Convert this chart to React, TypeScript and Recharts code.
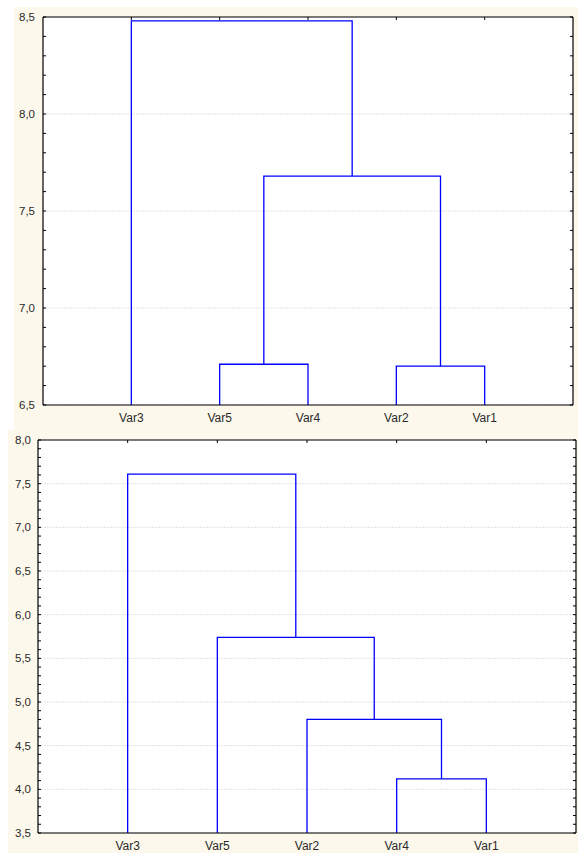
import React from 'react';
import { ComposedChart, Line, XAxis, YAxis, CartesianGrid } from 'recharts';

// ---- Top dendrogram data ----
const TOP_LEAVES = ['Var3', 'Var5', 'Var4', 'Var2', 'Var1'];
// merges: left child id, right child id (leaves 0..4, clusters 5..), linkage height
const TOP_LEFT = [1, 3, 5, 0];
const TOP_RIGHT = [2, 4, 6, 7];
const TOP_HEIGHT = [6.71, 6.7, 7.68, 8.48];
const TOP_Y_TICKS = [6.5, 7.0, 7.5, 8.0, 8.5];

// ---- Bottom dendrogram data ----
const BOT_LEAVES = ['Var3', 'Var5', 'Var2', 'Var4', 'Var1'];
const BOT_LEFT = [3, 2, 1, 0];
const BOT_RIGHT = [4, 5, 6, 7];
const BOT_HEIGHT = [4.12, 4.8, 5.74, 7.61];
const BOT_Y_TICKS = [3.5, 4.0, 4.5, 5.0, 5.5, 6.0, 6.5, 7.0, 7.5, 8.0];

const BLUE = '#0000ff';
const FONT = "'Liberation Sans', Arial, sans-serif";

function buildLinks(leaves: string[], left: number[], right: number[], heights: number[], base: number) {
  const nodes = leaves.map((_, i) => ({ x: i + 1, h: base }));
  const links: { x: number; y: number }[][] = [];
  for (let k = 0; k < heights.length; k++) {
    const a = nodes[left[k]];
    const b = nodes[right[k]];
    const h = heights[k];
    links.push([
      { x: a.x, y: a.h },
      { x: a.x, y: h },
      { x: b.x, y: h },
      { x: b.x, y: b.h },
    ]);
    nodes.push({ x: (a.x + b.x) / 2, h });
  }
  return links;
}

function minorTicks(min: number, max: number) {
  const out: number[] = [];
  const n = Math.round((max - min) / 0.1);
  for (let i = 0; i <= n; i++) out.push(Math.round((min + i * 0.1) * 10) / 10);
  return out;
}

const EmptyTick = () => <g />;
const fmt = (v: number) => v.toFixed(1).replace('.', ',');

function Dendrogram(props: {
  leaves: string[];
  left: number[];
  right: number[];
  heights: number[];
  yTicks: number[];
  width: number;
  height: number;
  margin: any;
  yWidth: number;
  xHeight: number;
  xTickMargin: number;
  yTickMargin: number;
}) {
  const { leaves, left, right, heights, yTicks, width, height, margin, yWidth, xHeight, xTickMargin, yTickMargin } = props;
  const yMin = yTicks[0];
  const yMax = yTicks[yTicks.length - 1];
  const links = buildLinks(leaves, left, right, heights, yMin);
  const minor = minorTicks(yMin, yMax);
  const xTicks = leaves.map((_, i) => i + 1);
  const xDomain = [0, leaves.length + 1];
  const xTickStyle = { fill: '#2a2a2a', fontSize: 12, fontFamily: FONT };
  const yTickStyle = { fill: '#2a2a2a', fontSize: 11.5, fontFamily: FONT };
  return (
    <ComposedChart width={width} height={height} margin={margin} style={{ fontFamily: FONT }}>
      <CartesianGrid
        vertical={false}
        horizontalValues={yTicks}
        stroke="#e2e2e2"
        strokeDasharray="2 1"
        fill="#ffffff"
        fillOpacity={1}
      />
      <XAxis
        xAxisId={0}
        type="number"
        dataKey="x"
        domain={xDomain}
        ticks={xTicks}
        interval={0}
        allowDataOverflow
        tickFormatter={(v: number) => leaves[v - 1]}
        height={xHeight}
        tickLine={false}
        tickSize={0}
        tickMargin={xTickMargin}
        axisLine={{ stroke: '#000', strokeWidth: 1.2 }}
        tick={xTickStyle}
      />
      <XAxis
        xAxisId="top"
        orientation="top"
        mirror
        type="number"
        dataKey="x"
        domain={xDomain}
        ticks={xTicks}
        interval={0}
        allowDataOverflow
        tick={EmptyTick}
        tickSize={3}
        tickLine={{ stroke: '#000' }}
        axisLine={{ stroke: '#000', strokeWidth: 1.2 }}
      />
      <YAxis
        yAxisId={0}
        type="number"
        domain={[yMin, yMax]}
        ticks={yTicks}
        interval={0}
        allowDataOverflow
        tickFormatter={fmt}
        width={yWidth}
        tickLine={false}
        tickSize={0}
        tickMargin={yTickMargin}
        axisLine={{ stroke: '#000', strokeWidth: 1.2 }}
        tick={yTickStyle}
      />
      <YAxis
        yAxisId="minor"
        orientation="left"
        mirror
        type="number"
        domain={[yMin, yMax]}
        ticks={minor}
        interval={0}
        allowDataOverflow
        tick={EmptyTick}
        tickSize={3}
        tickLine={{ stroke: '#000' }}
        axisLine={false}
      />
      <YAxis
        yAxisId="right"
        orientation="right"
        mirror
        type="number"
        domain={[yMin, yMax]}
        ticks={minor}
        interval={0}
        allowDataOverflow
        tick={EmptyTick}
        tickSize={3}
        tickLine={{ stroke: '#000' }}
        axisLine={{ stroke: '#000', strokeWidth: 1.2 }}
      />
      {links.map((pts, i) => (
        <Line
          key={i}
          data={pts}
          dataKey="y"
          type="linear"
          xAxisId={0}
          yAxisId={0}
          stroke={BLUE}
          strokeWidth={1.3}
          dot={false}
          activeDot={false}
          isAnimationActive={false}
        />
      ))}
    </ComposedChart>
  );
}

export default function App() {
  return (
    <div style={{ position: 'absolute', left: 0, top: 0, width: 578, height: 853, background: '#fff', overflow: 'hidden' }}>
      <div style={{ position: 'absolute', left: 14, top: 7, width: 564, height: 423, background: '#fdf8ec' }}>
        <Dendrogram
          leaves={TOP_LEAVES}
          left={TOP_LEFT}
          right={TOP_RIGHT}
          heights={TOP_HEIGHT}
          yTicks={TOP_Y_TICKS}
          width={564}
          height={423}
          margin={{ top: 10, right: 5, bottom: 0, left: 0 }}
          yWidth={29}
          xHeight={25}
          xTickMargin={8}
          yTickMargin={8}
        />
      </div>
      <div style={{ position: 'absolute', left: 8, top: 430, width: 570, height: 423, background: '#fdf8ec' }}>
        <Dendrogram
          leaves={BOT_LEAVES}
          left={BOT_LEFT}
          right={BOT_RIGHT}
          heights={BOT_HEIGHT}
          yTicks={BOT_Y_TICKS}
          width={570}
          height={423}
          margin={{ top: 10, right: 2, bottom: 0, left: 0 }}
          yWidth={30}
          xHeight={20}
          xTickMargin={8}
          yTickMargin={7}
        />
      </div>
    </div>
  );
}
